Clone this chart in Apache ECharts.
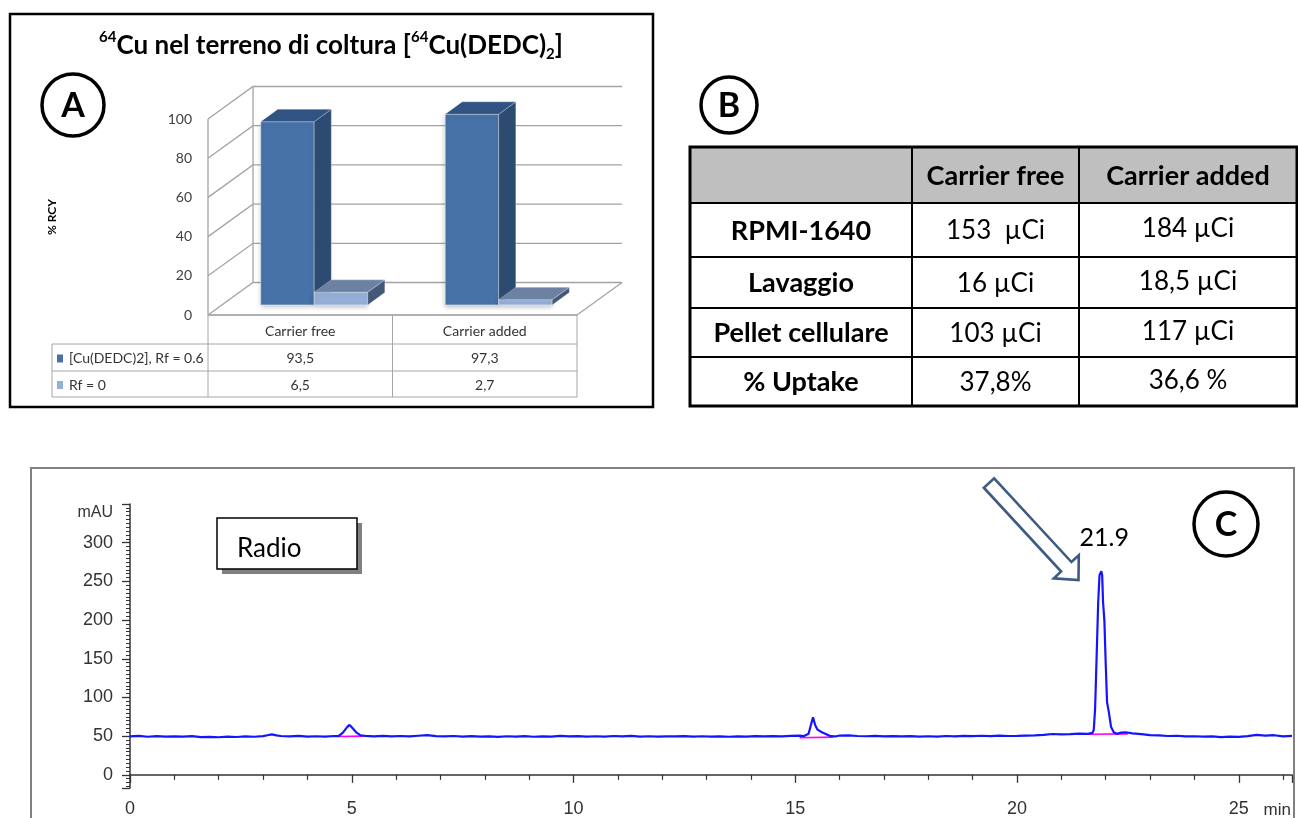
<!DOCTYPE html>
<html>
<head>
<meta charset="utf-8">
<script src="https://cdn.jsdelivr.net/npm/echarts@6/dist/echarts.min.js"></script>
<style>
  html, body { margin: 0; padding: 0; background: #fff; }
  #chart { width: 1298px; height: 818px; }
</style>
</head>
<body>
<div id="chart"></div>
<script>
// ---------- Panel A: radiochemical yield (% RCY) ----------
const rcyCategories = ['Carrier free', 'Carrier added'];
const rcySeriesNames = ['[Cu(DEDC)2], Rf = 0.6', 'Rf = 0'];
const complexYield = [93.5, 97.3];     // [Cu(DEDC)2], Rf = 0.6
const freeCopperYield = [6.5, 2.7];    // Rf = 0
const rcyTicks = [0, 20, 40, 60, 80, 100];

// ---------- Panel B: activity balance ----------
const uptakeColumns = ['Carrier free', 'Carrier added'];
const uptakeRows = ['RPMI-1640', 'Lavaggio', 'Pellet cellulare', '% Uptake'];
const uptakeCarrierFree = ['153  \u00b5Ci', '16 \u00b5Ci', '103 \u00b5Ci', '37,8%'];
const uptakeCarrierAdded = ['184 \u00b5Ci', '18,5 \u00b5Ci', '117 \u00b5Ci', '36,6 %'];

// ---------- Panel C: radio-HPLC trace (min, mAU) ----------
const radioTrace = [
  [0.0, 49.6], [0.2, 50.4], [0.4, 49.2], [0.6, 50.1], [0.8, 49.5], [1.0, 49.8], [1.2, 49.3], [1.4, 50.0],
  [1.6, 48.8], [1.8, 49.1], [2.0, 48.6], [2.2, 49.4], [2.4, 48.9], [2.6, 49.7], [2.8, 49.2], [3.0, 50.1],
  [3.1, 51.2], [3.2, 52.3], [3.3, 51.0], [3.4, 50.2], [3.6, 49.6], [3.8, 50.3], [4.0, 49.4], [4.2, 49.9],
  [4.4, 49.5], [4.6, 50.2], [4.7, 50.0], [4.8, 54.5], [4.9, 62.0], [4.95, 64.5], [5.0, 61.5], [5.1, 55.0],
  [5.2, 51.0], [5.3, 50.3], [5.5, 49.8], [5.7, 50.4], [5.9, 49.6], [6.1, 50.2], [6.3, 49.7], [6.5, 50.5],
  [6.7, 51.3], [6.9, 50.1], [7.1, 49.6], [7.3, 50.2], [7.5, 49.4], [7.7, 50.0], [7.9, 49.3], [8.1, 49.8],
  [8.3, 49.1], [8.5, 49.9], [8.7, 49.4], [8.9, 50.1], [9.1, 49.2], [9.3, 49.8], [9.5, 49.5], [9.7, 50.3],
  [9.9, 49.6], [10.1, 50.0], [10.3, 49.3], [10.5, 49.9], [10.7, 49.4], [10.9, 50.2], [11.1, 49.7], [11.3, 50.4],
  [11.5, 49.5], [11.7, 49.9], [11.9, 49.3], [12.1, 49.8], [12.3, 49.6], [12.5, 50.1], [12.7, 49.4], [12.9, 49.9],
  [13.1, 49.5], [13.3, 49.7], [13.5, 49.2], [13.7, 49.8], [13.9, 49.5], [14.1, 50.0], [14.3, 49.6], [14.5, 50.1],
  [14.7, 49.7], [14.9, 50.4], [15.1, 50.8], [15.2, 50.2], [15.3, 53.0], [15.36, 66.0], [15.4, 74.5], [15.45, 64.0],
  [15.5, 58.5], [15.6, 55.0], [15.7, 52.5], [15.8, 50.0], [15.9, 49.6], [16.0, 50.8], [16.2, 51.0], [16.4, 50.2],
  [16.6, 49.9], [16.8, 50.3], [17.0, 49.8], [17.2, 50.1], [17.4, 49.6], [17.6, 50.0], [17.8, 49.4], [18.0, 49.9],
  [18.2, 49.5], [18.4, 50.2], [18.6, 49.8], [18.8, 50.4], [19.0, 50.0], [19.2, 50.5], [19.4, 50.1], [19.6, 50.6],
  [19.8, 50.2], [20.0, 50.3], [20.2, 50.8], [20.4, 51.1], [20.6, 51.6], [20.8, 52.8], [21.0, 52.2], [21.2, 52.6],
  [21.4, 53.3], [21.6, 53.0], [21.7, 54.2], [21.73, 58.0], [21.76, 85.0], [21.79, 143.0], [21.83, 223.0], [21.86, 258.0],
  [21.9, 263.0], [21.92, 258.0], [21.94, 223.0], [21.97, 199.0], [22.0, 143.0], [22.03, 94.0], [22.07, 81.0], [22.12, 62.0],
  [22.18, 55.0], [22.25, 53.0], [22.35, 54.5], [22.45, 55.0], [22.6, 53.5], [22.8, 52.6], [23.0, 51.4], [23.2, 51.0],
  [23.4, 50.2], [23.6, 50.5], [23.8, 49.6], [24.0, 49.9], [24.2, 49.3], [24.4, 49.7], [24.6, 48.8], [24.8, 49.4],
  [25.0, 49.1], [25.2, 50.0], [25.4, 51.6], [25.6, 50.8], [25.8, 51.2], [26.0, 49.8], [26.2, 50.3]
];
// integration baselines drawn under the peaks
const integrationBaselines = [
  [[4.7, 49.5], [5.25, 50.0]],
  [[15.1, 48.0], [15.85, 48.8]],
  [[21.6, 52.4], [22.5, 53.0]]
];

// ---------- layout ----------
const FONT = 'Lato, "Open Sans", sans-serif';
const PLOT_FONT = '"Liberation Sans", Arial, sans-serif';
const gridA = { left: 208, top: 119, width: 369, height: 196 };
const gridC = { left: 130, top: 504, width: 1162, height: 285 };
const DEPTH = [45, -32.5];          // receding vector of the 3D floor
const BAR_DEPTH = [0.31, 0.69];     // share of the floor depth taken by the bars
const BAR_FRAC = 0.29;              // bar width as share of a category band
const barColors = [
  { front: '#4672A8', side: '#2D4A70', top: '#305383', legend: '#4672A8' },
  { front: '#95AFD8', side: '#44597A', top: '#6D82A2', legend: '#95AFD8' }
];

function barRenderer(s) {
  return function (params, api) {
    const cat = api.value(0), val = api.value(1);
    const base = api.coord([cat, 0]);
    const top = api.coord([cat, val]);
    const band = api.size([1, 0])[0];
    const bw = band * BAR_FRAC;
    const ox = BAR_DEPTH[0] * DEPTH[0], oy = BAR_DEPTH[0] * DEPTH[1];
    const dx = (BAR_DEPTH[1] - BAR_DEPTH[0]) * DEPTH[0];
    const dy = (BAR_DEPTH[1] - BAR_DEPTH[0]) * DEPTH[1];
    const x0 = base[0] - bw + s * bw + ox, x1 = x0 + bw;
    const yb = base[1] + oy, yt = top[1] + oy;
    const c = barColors[s];
    return {
      type: 'group',
      children: [
        { type: 'polygon', shape: { points: [[x0, yb], [x1, yb], [x1, yt], [x0, yt]] },
          style: { fill: c.front, stroke: 'rgba(255,255,255,0.45)', lineWidth: 1,
                   shadowBlur: 5, shadowOffsetY: 2, shadowColor: 'rgba(0,0,0,0.25)' } },
        { type: 'polygon', shape: { points: [[x1, yb], [x1 + dx, yb + dy], [x1 + dx, yt + dy], [x1, yt]] },
          style: { fill: c.side, stroke: 'rgba(255,255,255,0.3)', lineWidth: 0.8 } },
        { type: 'polygon', shape: { points: [[x0, yt], [x1, yt], [x1 + dx, yt + dy], [x0 + dx, yt + dy]] },
          style: { fill: c.top, stroke: 'rgba(255,255,255,0.3)', lineWidth: 0.8 } }
      ]
    };
  };
}

function wallRenderer(params, api) {
  const v = api.value(1);
  const a = api.coord([-0.5, v]);
  const b = api.coord([1.5, v]);
  const lineStyle = { stroke: '#A3A3A3', lineWidth: 1.3, fill: null };
  const children = [{
    type: 'polyline',
    shape: { points: [a, [a[0] + DEPTH[0], a[1] + DEPTH[1]], [b[0] + DEPTH[0], b[1] + DEPTH[1]]] },
    style: lineStyle
  }];
  if (params.dataIndex === 0) {
    const at = api.coord([-0.5, rcyTicks[rcyTicks.length - 1]]);
    children.push(
      { type: 'line', shape: { x1: a[0], y1: a[1], x2: at[0], y2: at[1] }, style: lineStyle },
      { type: 'line', shape: { x1: a[0] + DEPTH[0], y1: a[1] + DEPTH[1], x2: at[0] + DEPTH[0], y2: at[1] + DEPTH[1] }, style: lineStyle },
      { type: 'line', shape: { x1: a[0], y1: a[1], x2: b[0], y2: b[1] }, style: lineStyle },
      { type: 'line', shape: { x1: b[0], y1: b[1], x2: b[0] + DEPTH[0], y2: b[1] + DEPTH[1] }, style: lineStyle }
    );
  }
  return { type: 'group', children };
}

// ---------- graphic elements (frames, tables, markers) ----------
const graphics = [];
function text(x, y, str, font, extra) {
  graphics.push({ type: 'text', x, y, z: 10,
    style: Object.assign({ text: str, font, fill: '#000', textAlign: 'center', textVerticalAlign: 'middle' }, extra || {}) });
}
function hline(x1, x2, y, stroke, w) {
  graphics.push({ type: 'line', z: 5, shape: { x1, y1: y, x2, y2: y }, style: { stroke, lineWidth: w } });
}
function vline(x, y1, y2, stroke, w) {
  graphics.push({ type: 'line', z: 5, shape: { x1: x, y1, x2: x, y2 }, style: { stroke, lineWidth: w } });
}
function badge(cx, cy, r, letter) {
  graphics.push({ type: 'circle', z: 8, shape: { cx, cy, r }, style: { fill: '#fff', stroke: '#000', lineWidth: 3.5 } });
  text(cx, cy + 1, letter, 'bold 34px ' + FONT);
}

// Panel A frame, title and badge
graphics.push({ type: 'rect', z: 1, shape: { x: 10, y: 14, width: 643, height: 393 },
  style: { fill: null, stroke: '#000', lineWidth: 2.5 } });
graphics.push({ type: 'text', x: 331, y: 46, z: 10, style: {
  text: '{s|64}{t|Cu nel terreno di coltura [}{s|64}{t|Cu(DEDC)}{b|2}{t|]}',
  textAlign: 'center', textVerticalAlign: 'middle',
  rich: {
    t: { fontFamily: FONT, fontWeight: 'bold', fontSize: 26, lineHeight: 32, fill: '#000', verticalAlign: 'middle' },
    s: { fontFamily: FONT, fontWeight: 'bold', fontSize: 15, lineHeight: 16, fill: '#000', verticalAlign: 'top' },
    b: { fontFamily: FONT, fontWeight: 'bold', fontSize: 15, lineHeight: 16, fill: '#000', verticalAlign: 'bottom' }
  }
} });
badge(73, 105, 31, 'A');

// Panel A data table under the 3D bars
const tA = { cols: [52, gridA.left, gridA.left + gridA.width / 2, gridA.left + gridA.width],
             rows: [gridA.top + gridA.height, 344, 371, 397] };
const gridGray = '#A6A6A6';
hline(tA.cols[1], tA.cols[3], tA.rows[0], gridGray, 1);
for (let r = 1; r < 4; r++) hline(tA.cols[0], tA.cols[3], tA.rows[r], gridGray, 1);
vline(tA.cols[0], tA.rows[1], tA.rows[3], gridGray, 1);
for (let c = 1; c < 4; c++) vline(tA.cols[c], tA.rows[0], tA.rows[3], gridGray, 1);
rcyCategories.forEach((name, i) => {
  const cx = (tA.cols[i + 1] + tA.cols[i + 2]) / 2;
  text(cx, (tA.rows[0] + tA.rows[1]) / 2 + 2, name, '14px ' + FONT, { fill: '#333' });
});
[complexYield, freeCopperYield].forEach((vals, r) => {
  const cy = (tA.rows[r + 1] + tA.rows[r + 2]) / 2 + 1;
  graphics.push({ type: 'rect', z: 6, shape: { x: 57, y: cy - 4, width: 6, height: 8 }, style: { fill: barColors[r].legend } });
  text(69, cy, rcySeriesNames[r], '14px ' + FONT, { fill: '#333', textAlign: 'left' });
  vals.forEach((v, i) => {
    const cx = (tA.cols[i + 1] + tA.cols[i + 2]) / 2;
    text(cx, cy, v.toFixed(1).replace('.', ','), '14px ' + FONT, { fill: '#333' });
  });
});

// Panel B: table
badge(729, 105, 28, 'B');
const tB = { cols: [690, 912, 1079, 1297], rows: [147, 203, 257, 308, 357, 406] };
graphics.push({ type: 'rect', z: 4, shape: { x: tB.cols[0], y: tB.rows[0], width: tB.cols[3] - tB.cols[0], height: tB.rows[1] - tB.rows[0] },
  style: { fill: '#BFBFBF' } });
for (let r = 1; r < tB.rows.length - 1; r++) hline(tB.cols[0], tB.cols[3], tB.rows[r], '#000', 2);
for (let c = 1; c < 3; c++) vline(tB.cols[c], tB.rows[0], tB.rows[5], '#000', 2);
graphics.push({ type: 'rect', z: 6, shape: { x: tB.cols[0], y: tB.rows[0], width: tB.cols[3] - tB.cols[0], height: tB.rows[5] - tB.rows[0] },
  style: { fill: null, stroke: '#000', lineWidth: 3 } });
uptakeColumns.forEach((name, i) => {
  text((tB.cols[i + 1] + tB.cols[i + 2]) / 2, (tB.rows[0] + tB.rows[1]) / 2 + 1, name, 'bold 27px ' + FONT);
});
uptakeRows.forEach((name, r) => {
  const cy = (tB.rows[r + 1] + tB.rows[r + 2]) / 2;
  text((tB.cols[0] + tB.cols[1]) / 2, cy + 1, name, 'bold 27px ' + FONT);
  text((tB.cols[1] + tB.cols[2]) / 2, cy + 1, uptakeCarrierFree[r], '26px ' + FONT);
  text((tB.cols[2] + tB.cols[3]) / 2, cy - 1, uptakeCarrierAdded[r], '26px ' + FONT);
});

// Panel C frame, label box, badge and arrow
graphics.push({ type: 'rect', z: 0, shape: { x: 31, y: 468, width: 1263, height: 370 },
  style: { fill: null, stroke: '#808080', lineWidth: 2 } });
graphics.push({ type: 'rect', z: 6, shape: { x: 222, y: 523, width: 140, height: 51 }, style: { fill: '#808080' } });
graphics.push({ type: 'rect', z: 7, shape: { x: 217, y: 518, width: 140, height: 51 },
  style: { fill: '#fff', stroke: '#000', lineWidth: 1.5 } });
text(237, 549, 'Radio', '26px ' + FONT, { textAlign: 'left' });
badge(1226, 524, 32, 'C');
text(gridC.left + gridC.width - 1, 810, 'min', '17px ' + PLOT_FONT, { fill: '#333', textAlign: 'right' });
(function arrow() {
  const S = [989, 483], T = [1078.5, 580];
  const len = Math.hypot(T[0] - S[0], T[1] - S[1]);
  const d = [(T[0] - S[0]) / len, (T[1] - S[1]) / len];
  const n = [-d[1], d[0]];
  const hl = 18, hw = 17, sw = 7;
  const H = [T[0] - d[0] * hl, T[1] - d[1] * hl];
  const p = (o, k) => [o[0] + n[0] * k, o[1] + n[1] * k];
  graphics.push({ type: 'polygon', z: 9,
    shape: { points: [p(S, sw), p(H, sw), p(H, hw), T, p(H, -hw), p(H, -sw), p(S, -sw)] },
    style: { fill: '#fff', stroke: '#3E5C82', lineWidth: 2.6, lineJoin: 'miter' } });
})();

// ---------- chart ----------
const apex = radioTrace.reduce((m, p) => (p[1] > m[1] ? p : m), radioTrace[0]);

const chart = echarts.init(document.getElementById('chart'));
chart.setOption({
  animation: false,
  graphic: graphics,
  grid: [
    Object.assign({ containLabel: false }, gridA),
    Object.assign({ containLabel: false }, gridC)
  ],
  xAxis: [
    { gridIndex: 0, type: 'value', min: -0.5, max: 1.5, show: false },
    {
      gridIndex: 1, type: 'value', min: 0, max: 26.2, interval: 5,
      axisLine: { lineStyle: { color: '#333', width: 1.5 } },
      axisTick: { length: 8, lineStyle: { color: '#333', width: 1.3 } },
      minorTick: { show: true, splitNumber: 5, length: 5, lineStyle: { color: '#333', width: 1.2 } },
      splitLine: { show: false },
      axisLabel: { margin: 12, fontSize: 18, color: '#333', fontFamily: PLOT_FONT, showMaxLabel: false }
    }
  ],
  yAxis: [
    {
      gridIndex: 0, type: 'value', min: 0, max: 100, interval: 20,
      name: '% RCY', nameLocation: 'middle', nameGap: 150, nameRotate: 90,
      nameTextStyle: { fontWeight: 'bold', fontSize: 12, color: '#000', fontFamily: FONT },
      axisLine: { show: false }, axisTick: { show: false }, splitLine: { show: false },
      axisLabel: { margin: 16, fontSize: 14, color: '#404040', fontFamily: FONT }
    },
    {
      gridIndex: 1, type: 'value', min: -17, max: 350, minInterval: 50, maxInterval: 50,
      axisLine: { lineStyle: { color: '#333', width: 1.5 } },
      axisTick: { length: 8, lineStyle: { color: '#333', width: 1.3 } },
      minorTick: { show: true, splitNumber: 10, length: 4, lineStyle: { color: '#333', width: 1 } },
      splitLine: { show: false },
      axisLabel: {
        margin: 17, fontSize: 18, color: '#333', fontFamily: PLOT_FONT,
        showMinLabel: false, showMaxLabel: true,
        formatter: v => (v === 350 ? '{u|mAU}' : String(v)),
        rich: { u: { fontSize: 16, color: '#333', fontFamily: PLOT_FONT, padding: [18, 0, 0, 0] } }
      }
    }
  ],
  series: [
    {
      type: 'custom', name: 'walls', xAxisIndex: 0, yAxisIndex: 0, silent: true, z: 1,
      data: rcyTicks.map(v => [-0.5, v]), encode: { x: 0, y: 1 },
      renderItem: wallRenderer
    },
    {
      type: 'custom', name: rcySeriesNames[0], xAxisIndex: 0, yAxisIndex: 0, z: 3,
      data: complexYield.map((v, i) => [i, v]), encode: { x: 0, y: 1 },
      renderItem: barRenderer(0)
    },
    {
      type: 'custom', name: rcySeriesNames[1], xAxisIndex: 0, yAxisIndex: 0, z: 4,
      data: freeCopperYield.map((v, i) => [i, v]), encode: { x: 0, y: 1 },
      renderItem: barRenderer(1)
    },
    ...integrationBaselines.map(seg => ({
      type: 'line', xAxisIndex: 1, yAxisIndex: 1, data: seg, showSymbol: false, silent: true, z: 3,
      lineStyle: { color: '#FF00FF', width: 1.6 }
    })),
    {
      type: 'line', name: 'Radio', xAxisIndex: 1, yAxisIndex: 1, data: radioTrace,
      showSymbol: false, z: 4,
      lineStyle: { color: '#1414FF', width: 2.2 },
      markPoint: {
        symbol: 'circle', symbolSize: 0, silent: true,
        data: [{ coord: apex }],
        label: { show: true, position: 'inside', offset: [3, -33], formatter: apex[0].toFixed(1),
                 fontSize: 25, color: '#000', fontFamily: FONT }
      }
    }
  ]
});
</script>
</body>
</html>
